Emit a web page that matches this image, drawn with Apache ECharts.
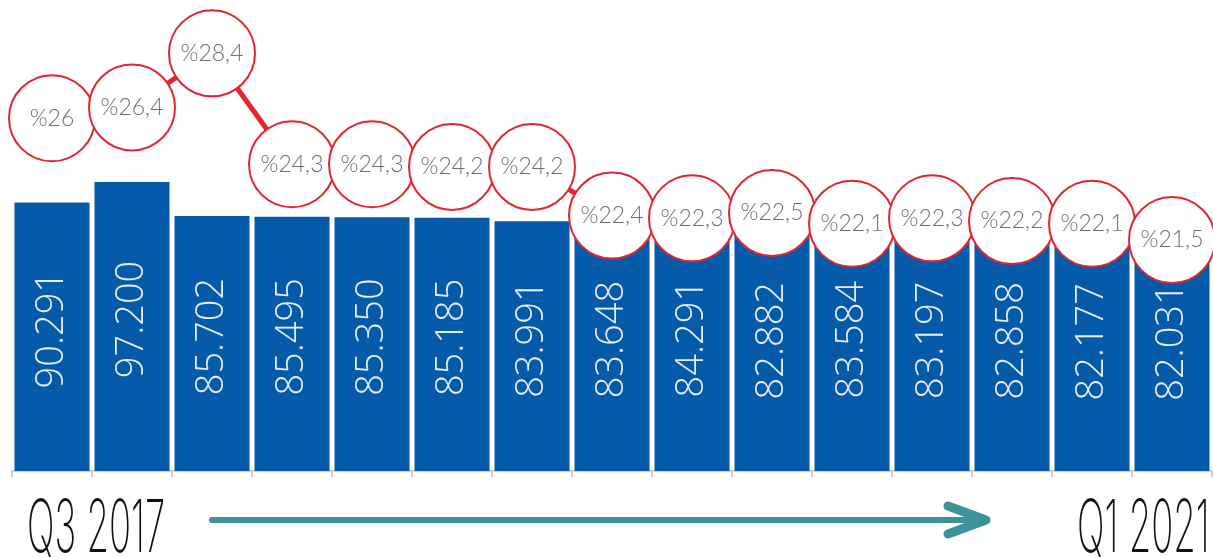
<!DOCTYPE html>
<html>
<head>
<meta charset="utf-8">
<script src="https://cdn.jsdelivr.net/npm/echarts@6/dist/echarts.min.js"></script>
<style>
html,body{margin:0;padding:0;background:#fff;}
#chart{width:1213px;height:557px;}
</style>
</head>
<body>
<div id="chart"></div>
<script>
var categories = ['Q3 2017','Q4 2017','Q1 2018','Q2 2018','Q3 2018','Q4 2018','Q1 2019','Q2 2019','Q3 2019','Q4 2019','Q1 2020','Q2 2020','Q3 2020','Q4 2020','Q1 2021'];
var barValues = [90291, 97200, 85702, 85495, 85350, 85185, 83991, 83648, 84291, 82882, 83584, 83197, 82858, 82177, 82031];
var pctValues = [26, 26.4, 28.4, 24.3, 24.3, 24.2, 24.2, 22.4, 22.3, 22.5, 22.1, 22.3, 22.2, 22.1, 21.5];
var startLabel = 'Q3 2017';
var endLabel = 'Q1 2021';

function fmtThousands(v){
  return String(v).replace(/\B(?=(\d{3})+(?!\d))/g, '.');
}
function fmtPct(v){
  return '%' + String(v).replace('.', ',');
}

var chart = echarts.init(document.getElementById('chart'));
chart.setOption({
  animation: false,
  grid: {left: 12, right: 1, top: 10, bottom: 86},
  xAxis: {
    type: 'category',
    data: categories,
    axisLine: {lineStyle: {color: '#cfcfcf', width: 2}},
    axisTick: {show: true, length: 6, lineStyle: {color: '#cfcfcf', width: 2}},
    axisLabel: {show: false}
  },
  yAxis: [
    {type: 'value', min: 0, max: 155000, show: false, splitLine: {show: false}},
    {type: 'value', min: 12.96, max: 30, show: false, splitLine: {show: false}}
  ],
  series: [
    {
      type: 'bar',
      data: barValues,
      yAxisIndex: 0,
      barCategoryGap: '6.25%',
      itemStyle: {color: '#055BAA'},
      label: {
        show: true,
        position: 'inside',
        rotate: 90,
        offset: [7, 0],
        color: '#e8eef6',
        fontFamily: 'Open Sans',
        fontWeight: 300,
        fontSize: 38,
        formatter: function(p){ return fmtThousands(p.value); }
      }
    },
    {
      type: 'line',
      data: pctValues,
      yAxisIndex: 1,
      clip: false,
      symbol: 'circle',
      symbolSize: 86,
      showSymbol: true,
      showAllSymbol: true,
      lineStyle: {color: '#E2262F', width: 5},
      itemStyle: {color: '#ffffff', borderColor: '#E2262F', borderWidth: 2},
      label: {
        show: true,
        position: 'inside',
        color: '#707070',
        fontFamily: 'Lato',
        fontWeight: 300,
        fontSize: 23,
        formatter: function(p){ return fmtPct(p.value); }
      },
      z: 5
    }
  ],
  graphic: [
    {
      type: 'text', left: 27, top: 494, scaleX: 0.5,
      style: {text: startLabel, fontFamily: 'Inter', fontWeight: 200, fontSize: 73, fill: '#111'}
    },
    {
      type: 'text', left: 1077, top: 494, scaleX: 0.5,
      style: {text: endLabel, fontFamily: 'Inter', fontWeight: 200, fontSize: 73, fill: '#111'}
    },
    {
      type: 'line',
      shape: {x1: 212, y1: 520, x2: 982, y2: 520},
      style: {stroke: '#3B9399', lineWidth: 6, lineCap: 'round'}
    },
    {
      type: 'polyline',
      shape: {points: [[948, 506], [986, 520], [948, 534]]},
      style: {stroke: '#3B9399', lineWidth: 9, lineCap: 'round', lineJoin: 'round', fill: null}
    }
  ]
});
</script>
</body>
</html>
